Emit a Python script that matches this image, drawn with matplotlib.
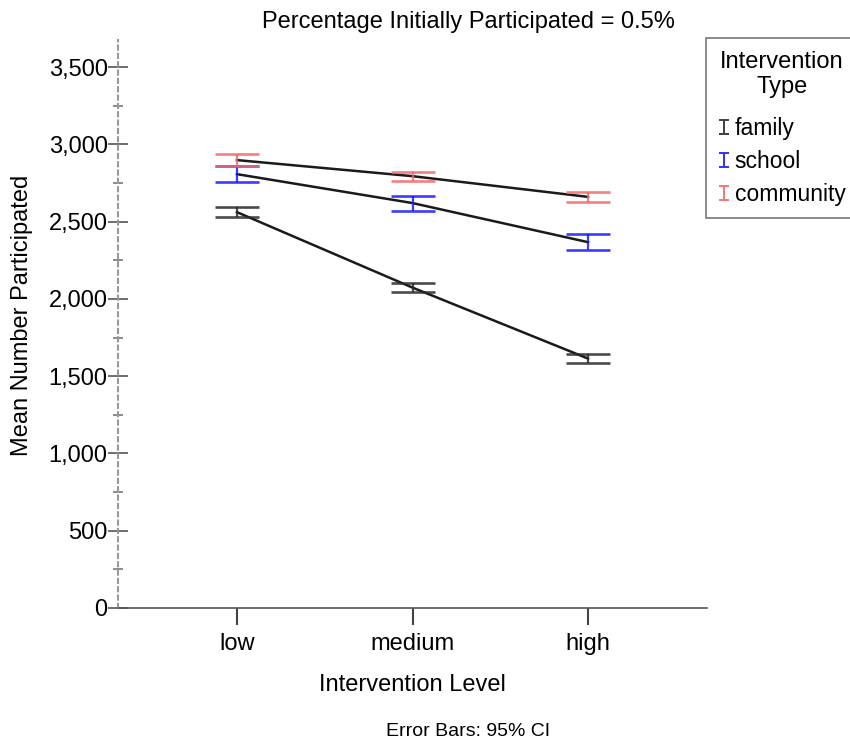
import matplotlib
matplotlib.use("Agg")
import matplotlib.pyplot as plt
from matplotlib.lines import Line2D
from matplotlib.path import Path
import numpy as np

plt.rcParams['font.family'] = ['Liberation Sans', 'DejaVu Sans']

levels = ["low", "medium", "high"]
types = ["family", "school", "community"]
colors = ["#2b2b2b", "#1a1aff", "#f06a6a"]

means = {
    "family":    [2561, 2073, 1614],
    "school":    [2807, 2620, 2367],
    "community": [2898, 2794, 2660],
}
ci_low = {
    "family":    [2530, 2046, 1587],
    "school":    [2754, 2570, 2316],
    "community": [2860, 2765, 2628],
}
ci_high = {
    "family":    [2592, 2100, 1641],
    "school":    [2859, 2665, 2418],
    "community": [2935, 2823, 2693],
}

W, H = 850, 743
fig = plt.figure(figsize=(W/100, H/100), dpi=100)
ax = fig.add_axes([118/W, 1-608/H, (707-118)/W, (608-40)/H])

x = np.arange(len(levels))
for t, c in zip(types, colors):
    m = np.array(means[t]); lo = np.array(ci_low[t]); hi = np.array(ci_high[t])
    ax.plot(x, m, color="#1a1a1a", lw=1.8, zorder=3)
    ax.errorbar(x, m, yerr=[m-lo, hi-m], fmt='none', ecolor=c, elinewidth=1.6,
                capsize=16, capthick=1.9, zorder=4, alpha=0.85)

ax.set_xlim(-0.678, 2.678)
ax.set_ylim(0, 3675)
ax.set_xticks(x)
ax.set_xticklabels(levels)
ax.set_yticks(np.arange(0, 3501, 500))
ax.set_yticklabels([f"{v:,}" for v in range(0, 3501, 500)])
ax.set_yticks(np.arange(250, 3501, 500), minor=True)

for s in ["top", "right"]:
    ax.spines[s].set_visible(False)
ax.spines["left"].set_linestyle((0, (2, 2)))
ax.spines["left"].set_color("#999999")
ax.spines["left"].set_linewidth(1.5)
ax.spines["bottom"].set_color("#555555")
ax.spines["bottom"].set_linewidth(1.2)

ax.tick_params(axis='y', which='major', direction='inout', length=15, width=1.2,
               color="#555555", labelsize=17, pad=0)
ax.tick_params(axis='y', which='minor', direction='inout', length=7, width=1.2,
               color="#777777")
ax.tick_params(axis='x', which='major', direction='out', length=12, width=1.5,
               color="#444444", labelsize=17, pad=6)

ax.set_ylabel("Mean Number Participated", fontsize=17)
ax.set_xlabel("Intervention Level", fontsize=17)
ax.yaxis.set_label_coords((22-118)/(707-118), (608-315)/(608-40))
ax.xaxis.set_label_coords(0.5, -(685-608)/(608-40))
ax.xaxis.label.set_va('center')
ax.yaxis.label.set_va('center')

fig.text(468/W, 1-22/H, "Percentage Initially Participated = 0.5%", fontsize=17,
         ha='center', va='center')
fig.text(468/W, 1-731/H, "Error Bars: 95% CI", fontsize=14, ha='center', va='center')

ibar = Path([(-0.75, -1), (0.75, -1), (0, -1), (0, 1), (-0.75, 1), (0.75, 1)],
            [Path.MOVETO, Path.LINETO, Path.MOVETO, Path.LINETO, Path.MOVETO, Path.LINETO])
handles = [Line2D([], [], linestyle='none', marker=ibar, markersize=10.5,
                  markeredgewidth=1.4, markeredgecolor=c, markerfacecolor='none', alpha=0.9)
           for c in colors]
leg = fig.legend(handles=handles, labels=types, loc='upper left',
                 bbox_to_anchor=(706/W, 1-38/H), title="Intervention\nType",
                 fontsize=16.5, title_fontsize=17, frameon=True, fancybox=False,
                 handlelength=0.45, handletextpad=0.25, borderpad=0.55, labelspacing=0.42,
                 borderaxespad=0)
leg._legend_box.sep = 14
leg.get_frame().set_edgecolor("#555555")
leg.get_frame().set_linewidth(1.2)
leg.get_title().set_multialignment('center')

fig.savefig("out.png", dpi=100)
